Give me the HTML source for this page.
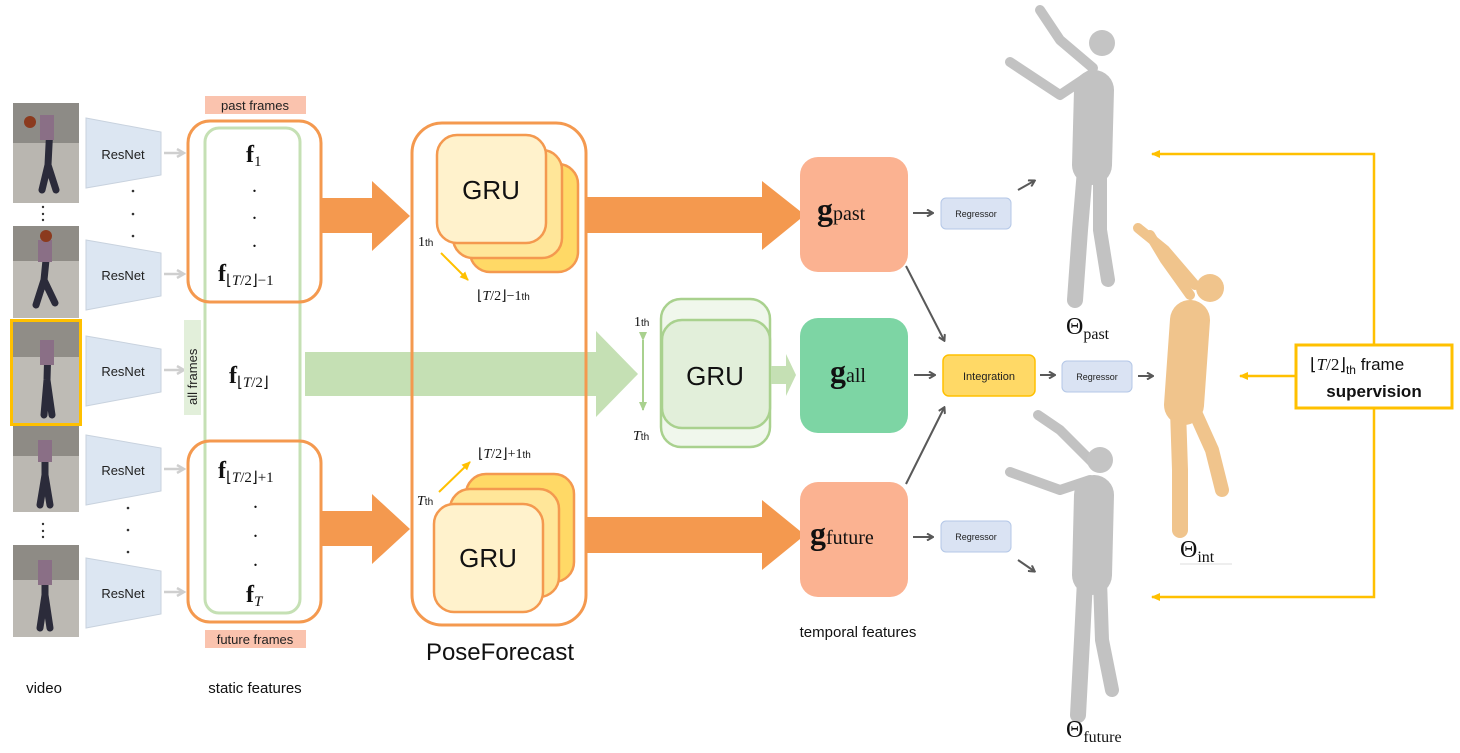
<!DOCTYPE html>
<html><head><meta charset="utf-8"><style>
html,body{margin:0;padding:0;background:#fff;}
svg{display:block;font-family:"Liberation Sans",sans-serif;}
.m{font-family:"Liberation Serif",serif;}
</style></head><body>
<svg width="1460" height="753" viewBox="0 0 1460 753" xmlns="http://www.w3.org/2000/svg">
<defs>
<marker id="ga" markerWidth="8" markerHeight="8" refX="6" refY="4" orient="auto" markerUnits="userSpaceOnUse"><path d="M1,0.5 L7,4 L1,7.5" fill="none" stroke="#595959" stroke-width="2"/></marker>
<marker id="la" markerWidth="10" markerHeight="10" refX="8" refY="5" orient="auto" markerUnits="userSpaceOnUse"><path d="M1,1 L8,5 L1,9" fill="none" stroke="#cfcfcf" stroke-width="2.5"/></marker>
<marker id="ya" markerWidth="10" markerHeight="10" refX="8" refY="5" orient="auto" markerUnits="userSpaceOnUse"><path d="M0,1 L9,5 L0,9 Z" fill="#FFC000"/></marker>
<marker id="gr" markerWidth="10" markerHeight="10" refX="8" refY="5" orient="auto" markerUnits="userSpaceOnUse"><path d="M0,1 L9,5 L0,9 Z" fill="#A9D18E"/></marker>
</defs>

<!-- video frames -->
<g>
<rect x="13" y="103" width="66" height="100" fill="#b9b6b0"/>
<rect x="13" y="103" width="66" height="40" fill="#8d8b86"/>
<rect x="13" y="226" width="66" height="92" fill="#bdbab4"/>
<rect x="13" y="226" width="66" height="35" fill="#8f8c86"/>
<rect x="13" y="322" width="66" height="101" fill="#bebbb5"/>
<rect x="13" y="322" width="66" height="35" fill="#908d87"/>
<rect x="11.5" y="320.5" width="69" height="104" fill="none" stroke="#FFC000" stroke-width="3"/>
<rect x="13" y="426" width="66" height="86" fill="#bbb8b2"/>
<rect x="13" y="426" width="66" height="30" fill="#8e8b85"/>
<rect x="13" y="545" width="66" height="92" fill="#bcb9b3"/>
<rect x="13" y="545" width="66" height="35" fill="#8e8b85"/>
<g stroke="#2b2b3a" stroke-width="7" stroke-linecap="round" fill="none">
<path d="M50,125 L48,165 L42,190 M48,165 L56,190"/>
<path d="M47,250 L44,280 L36,305 M44,280 L55,303"/>
<path d="M48,345 L47,380 L44,415 M47,380 L52,415"/>
<path d="M45,445 L45,475 L40,505 M45,475 L50,505"/>
<path d="M45,565 L45,595 L40,628 M45,595 L50,628"/>
</g>
<g fill="#8a6f86"><rect x="40" y="115" width="14" height="25"/><rect x="38" y="240" width="14" height="22"/><rect x="40" y="340" width="14" height="25"/><rect x="38" y="440" width="14" height="22"/><rect x="38" y="560" width="14" height="25"/></g>
<circle cx="30" cy="122" r="6" fill="#8b3a1e"/><circle cx="46" cy="236" r="6" fill="#8b3a1e"/>
</g>
<g fill="#333"><circle cx="43" cy="207" r="1.2"/><circle cx="43" cy="214" r="1.2"/><circle cx="43" cy="220" r="1.2"/><circle cx="43" cy="524" r="1.2"/><circle cx="43" cy="531" r="1.2"/><circle cx="43" cy="537" r="1.2"/></g>

<!-- ResNets -->
<g fill="#DCE6F2" stroke="#c8d2de" stroke-width="1">
<polygon points="86,118 161,132 161,175 86,188"/>
<polygon points="86,240 161,253 161,296 86,310"/>
<polygon points="86,336 161,349 161,392 86,406"/>
<polygon points="86,435 161,448 161,491 86,505"/>
<polygon points="86,558 161,571 161,614 86,628"/>
</g>
<g font-size="13" fill="#222" text-anchor="middle">
<text x="123" y="159">ResNet</text><text x="123" y="280">ResNet</text><text x="123" y="376">ResNet</text><text x="123" y="475">ResNet</text><text x="123" y="598">ResNet</text>
</g>
<g fill="#333"><circle cx="133" cy="191" r="1.3"/><circle cx="133" cy="214" r="1.3"/><circle cx="133" cy="236" r="1.3"/><circle cx="128" cy="508" r="1.3"/><circle cx="128" cy="530" r="1.3"/><circle cx="128" cy="552" r="1.3"/></g>
<g stroke="#cfcfcf" stroke-width="2.5" marker-end="url(#la)">
<line x1="164" y1="153" x2="184" y2="153"/><line x1="164" y1="274" x2="184" y2="274"/><line x1="164" y1="370" x2="184" y2="370"/><line x1="164" y1="469" x2="184" y2="469"/><line x1="164" y1="592" x2="184" y2="592"/>
</g>

<!-- static features -->
<rect x="205" y="96" width="101" height="18" fill="#F9B8A0" opacity="0.85"/>
<text x="255" y="110" font-size="13" text-anchor="middle" fill="#222">past frames</text>
<rect x="205" y="630" width="101" height="18" fill="#F9B8A0" opacity="0.85"/>
<text x="255" y="644" font-size="13" text-anchor="middle" fill="#222">future frames</text>
<rect x="184" y="320" width="17" height="95" fill="#E2EFDA"/>
<text transform="translate(197,405) rotate(-90)" font-size="13" fill="#222">all frames</text>
<rect x="205" y="128" width="95" height="485" rx="14" fill="none" stroke="#C5E0B4" stroke-width="3"/>
<rect x="188" y="121" width="133" height="181" rx="22" fill="none" stroke="#F4994F" stroke-width="3"/>
<rect x="188" y="441" width="133" height="181" rx="22" fill="none" stroke="#F4994F" stroke-width="3"/>
<g class="m" fill="#111">
<text x="246" y="162" font-size="24" font-weight="bold">f<tspan font-size="15" font-weight="normal" dy="4">1</tspan></text>
<text x="252" y="192" font-size="20">.</text><text x="252" y="219" font-size="20">.</text><text x="252" y="247" font-size="20">.</text>
<text x="218" y="281" font-size="24" font-weight="bold">f<tspan font-size="15" font-weight="normal" dy="4">⌊<tspan font-style="italic">T</tspan>/2⌋−1</tspan></text>
<text x="229" y="383" font-size="24" font-weight="bold">f<tspan font-size="15" font-weight="normal" dy="4">⌊<tspan font-style="italic">T</tspan>/2⌋</tspan></text>
<text x="218" y="478" font-size="24" font-weight="bold">f<tspan font-size="15" font-weight="normal" dy="4">⌊<tspan font-style="italic">T</tspan>/2⌋+1</tspan></text>
<text x="253" y="508" font-size="20">.</text><text x="253" y="537" font-size="20">.</text><text x="253" y="566" font-size="20">.</text>
<text x="246" y="602" font-size="24" font-weight="bold">f<tspan font-size="15" font-style="italic" font-weight="normal" dy="4">T</tspan></text>
</g>

<!-- arrows into poseforecast -->
<polygon points="322,198 372,198 372,181 410,216 372,251 372,233 322,233" fill="#F4994F"/>
<polygon points="322,511 372,511 372,494 410,529 372,564 372,546 322,546" fill="#F4994F"/>
<!-- green arrow -->
<polygon points="305,352 596,352 596,331 638,374 596,417 596,396 305,396" fill="#C5E0B4"/>

<!-- PoseForecast -->
<rect x="412" y="123" width="174" height="502" rx="30" fill="none" stroke="#F4994F" stroke-width="3"/>
<text x="500" y="660" font-size="24" text-anchor="middle" fill="#111">PoseForecast</text>
<g stroke="#F4994F" stroke-width="2.5">
<rect x="470" y="164" width="108" height="108" rx="20" fill="#FFD966"/>
<rect x="453" y="150" width="109" height="108" rx="20" fill="#FFE699"/>
<rect x="437" y="135" width="109" height="108" rx="20" fill="#FFF2CC"/>
<rect x="466" y="474" width="108" height="108" rx="20" fill="#FFD966"/>
<rect x="450" y="489" width="109" height="108" rx="20" fill="#FFE699"/>
<rect x="434" y="504" width="109" height="108" rx="20" fill="#FFF2CC"/>
</g>
<text x="491" y="199" font-size="26" text-anchor="middle" fill="#111">GRU</text>
<text x="488" y="567" font-size="26" text-anchor="middle" fill="#111">GRU</text>
<g stroke="#FFC000" stroke-width="2" marker-end="url(#ya)">
<line x1="441" y1="253" x2="468" y2="280"/>
<line x1="439" y1="492" x2="470" y2="462"/>
</g>
<g class="m" fill="#111" font-size="14">
<text x="418" y="246">1<tspan font-size="10" font-family="Liberation Sans">th</tspan></text>
<text x="477" y="300">⌊<tspan font-style="italic">T</tspan>/2⌋−1<tspan font-size="10" font-family="Liberation Sans">th</tspan></text>
<text x="417" y="505"><tspan font-style="italic">T</tspan><tspan font-size="10" font-family="Liberation Sans">th</tspan></text>
<text x="478" y="458">⌊<tspan font-style="italic">T</tspan>/2⌋+1<tspan font-size="10" font-family="Liberation Sans">th</tspan></text>
<text x="634" y="326">1<tspan font-size="10" font-family="Liberation Sans">th</tspan></text>
<text x="633" y="440"><tspan font-style="italic">T</tspan><tspan font-size="10" font-family="Liberation Sans">th</tspan></text>
</g>
<!-- green GRU -->
<line x1="643" y1="340" x2="643" y2="410" stroke="#A9D18E" stroke-width="2" marker-end="url(#gr)" marker-start="url(#gr)"/>
<rect x="661" y="299" width="109" height="148" rx="20" fill="#F0F7EC" stroke="#A9D18E" stroke-width="2.5"/>
<rect x="662" y="320" width="108" height="108" rx="20" fill="#E2EFDA" stroke="#A9D18E" stroke-width="2.5"/>
<text x="715" y="385" font-size="26" text-anchor="middle" fill="#111">GRU</text>
<polygon points="771,366 786,366 786,354 796,375 786,396 786,384 771,384" fill="#C5E0B4"/>

<!-- big orange arrows to g -->
<polygon points="587,197 762,197 762,181 805,215 762,250 762,233 587,233" fill="#F4994F"/>
<polygon points="587,517 762,517 762,500 805,535 762,570 762,553 587,553" fill="#F4994F"/>

<!-- g boxes -->
<rect x="800" y="157" width="108" height="115" rx="18" fill="#FBB291"/>
<rect x="800" y="318" width="108" height="115" rx="18" fill="#7DD5A4"/>
<rect x="800" y="482" width="108" height="115" rx="18" fill="#FBB291"/>
<g class="m" fill="#111">
<text x="817" y="220" font-size="32" font-weight="bold">g<tspan font-size="20" font-weight="normal">past</tspan></text>
<text x="830" y="382" font-size="32" font-weight="bold">g<tspan font-size="20" font-weight="normal">all</tspan></text>
<text x="810" y="544" font-size="32" font-weight="bold">g<tspan font-size="20" font-weight="normal">future</tspan></text>
</g>
<text x="858" y="637" font-size="15" text-anchor="middle" fill="#111">temporal features</text>

<!-- regressors etc -->
<g stroke="#B4C7E7" stroke-width="1" fill="#DAE3F3">
<rect x="941" y="198" width="70" height="31" rx="5"/>
<rect x="1062" y="361" width="70" height="31" rx="5"/>
<rect x="941" y="521" width="70" height="31" rx="5"/>
</g>
<rect x="943" y="355" width="92" height="41" rx="6" fill="#FFD966" stroke="#FFC000" stroke-width="1.5"/>
<g font-size="9" text-anchor="middle" fill="#222">
<text x="976" y="217">Regressor</text><text x="1097" y="380">Regressor</text><text x="976" y="540">Regressor</text>
</g>
<text x="989" y="380" font-size="11" text-anchor="middle" fill="#222">Integration</text>
<g stroke="#595959" stroke-width="2" marker-end="url(#ga)">
<line x1="913" y1="213" x2="932" y2="213"/>
<line x1="913" y1="537" x2="932" y2="537"/>
<line x1="914" y1="375" x2="934" y2="375"/>
<line x1="1040" y1="375" x2="1054" y2="375"/>
<line x1="1138" y1="376" x2="1152" y2="376"/>
<line x1="1018" y1="190" x2="1034" y2="181"/>
<line x1="1018" y1="560" x2="1034" y2="571"/>
<line x1="906" y1="266" x2="944" y2="340"/>
<line x1="906" y1="484" x2="944" y2="408"/>
</g>

<!-- human meshes -->
<g stroke-linecap="round" stroke-linejoin="round" fill="none">
<g stroke="#c2c2c2">
<path d="M1093,68 L1060,40 L1040,10" stroke-width="10"/>
<path d="M1090,75 L1060,95 L1010,62" stroke-width="10"/>
<path d="M1094,90 L1092,165" stroke-width="40"/>
<path d="M1085,170 L1080,230 L1075,300" stroke-width="16"/>
<path d="M1100,170 L1100,230 L1108,280" stroke-width="14"/>
<path d="M1093,463 L1060,430 L1038,415" stroke-width="10"/>
<path d="M1090,480 L1060,490 L1010,472" stroke-width="10"/>
<path d="M1094,495 L1092,575" stroke-width="40"/>
<path d="M1085,580 L1082,640 L1078,715" stroke-width="16"/>
<path d="M1100,580 L1102,640 L1112,690" stroke-width="14"/>
</g>
<g fill="#c4c4c4" stroke="none"><circle cx="1102" cy="43" r="13"/><circle cx="1100" cy="460" r="13"/></g>
<g stroke="#F0C48C">
<path d="M1195,285 L1165,250 L1138,228" stroke-width="10"/>
<path d="M1190,295 L1165,260 L1150,235" stroke-width="10"/>
<path d="M1190,320 L1184,405" stroke-width="40"/>
<path d="M1178,410 L1180,470 L1180,530" stroke-width="16"/>
<path d="M1194,410 L1212,450 L1222,490" stroke-width="14"/>
</g>
<circle cx="1210" cy="288" r="14" fill="#F0C48C"/>
</g>
<g class="m" fill="#111">
<text x="1066" y="334" font-size="24">Θ<tspan font-size="16" dy="5">past</tspan></text>
<text x="1180" y="557" font-size="24">Θ<tspan font-size="16" dy="5">int</tspan></text>
<text x="1066" y="737" font-size="24">Θ<tspan font-size="16" dy="5">future</tspan></text>
</g>
<line x1="1180" y1="564" x2="1232" y2="564" stroke="#ddd" stroke-width="1"/>

<!-- supervision -->
<g stroke="#FFC000" stroke-width="2.5" fill="none">
<path d="M1374,345 L1374,154 L1152,154" marker-end="url(#ya)"/>
<path d="M1374,408 L1374,597 L1152,597" marker-end="url(#ya)"/>
<line x1="1296" y1="376" x2="1240" y2="376" marker-end="url(#ya)"/>
</g>
<rect x="1296" y="345" width="156" height="63" fill="#fff" stroke="#FFC000" stroke-width="3"/>
<text x="1310" y="370" font-size="17" fill="#111"><tspan class="m" font-family="Liberation Serif">⌊<tspan font-style="italic">T</tspan>/2⌋</tspan><tspan font-size="12" dy="4">th</tspan><tspan dy="-4"> frame</tspan></text>
<text x="1374" y="397" font-size="17" font-weight="bold" text-anchor="middle" fill="#111">supervision</text>

<!-- bottom labels -->
<text x="44" y="693" font-size="15" text-anchor="middle" fill="#111">video</text>
<text x="255" y="693" font-size="15" text-anchor="middle" fill="#111">static features</text>
</svg>
</body></html>
